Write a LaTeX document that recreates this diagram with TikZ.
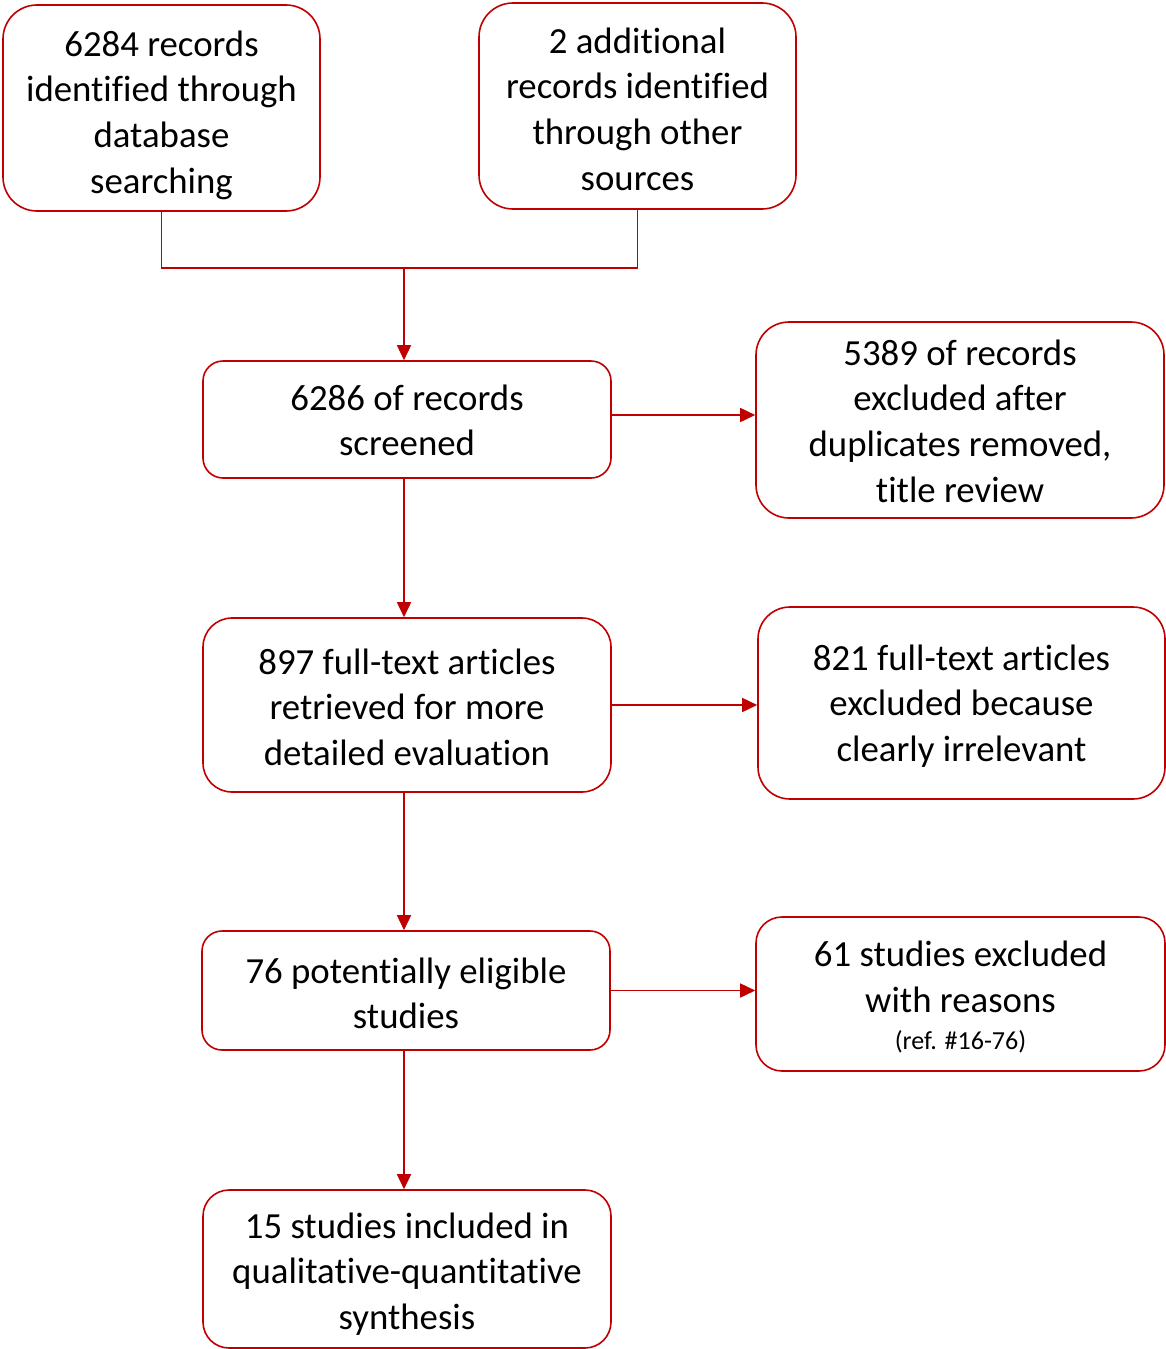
\documentclass[tikz,border=0pt]{standalone}
\usepackage{fontspec}
\setmainfont[Ligatures=NoCommon]{Carlito}
\usetikzlibrary{arrows.meta}
\definecolor{boxred}{HTML}{C00000}
\tikzset{
  flowbox/.style={draw=boxred, line width=1.6pt, fill=white, inner sep=0pt},
  boxtext/.style={inner sep=0pt, align=center, font=\fontsize{36.8}{45.6}\selectfont, text=black},
  link/.style={draw=boxred, line width=1.6pt},
  arrowlink/.style={link, -{Triangle[length=15pt,width=14pt]}}
}
\begin{document}
\begin{tikzpicture}[x=1pt,y=-1pt]
\useasboundingbox (0,0) rectangle (1166,1349);
% boxes
\node[flowbox, minimum width=317pt, minimum height=206pt, rounded corners=34pt] (A) at (161.5,108) {};
\node[flowbox, minimum width=317pt, minimum height=206pt, rounded corners=34pt] (B) at (637.5,106) {};
\node[flowbox, minimum width=408pt, minimum height=117pt, rounded corners=20pt] (C) at (407,419.5) {};
\node[flowbox, minimum width=408pt, minimum height=196pt, rounded corners=33pt] (D) at (960,420) {};
\node[flowbox, minimum width=408pt, minimum height=174pt, rounded corners=29pt] (E) at (407,705) {};
\node[flowbox, minimum width=407pt, minimum height=192pt, rounded corners=32pt] (F) at (961.5,703) {};
\node[flowbox, minimum width=408pt, minimum height=119pt, rounded corners=20pt] (G) at (406,990.5) {};
\node[flowbox, minimum width=409pt, minimum height=154pt, rounded corners=26pt] (H) at (960.5,994) {};
\node[flowbox, minimum width=408pt, minimum height=158pt, rounded corners=26pt] (I) at (407,1269) {};
% texts
\node[boxtext] (At) at (161.5,115) {6284 records\\identified through\\database\\searching};
\node[boxtext] (Bt) at (637.5,109) {2 additional\\records identified\\through other\\sources};
\node[boxtext] (Ct) at (407,420.5) {6286 of records\\screened};
\node[boxtext] (Dt) at (960,421) {5389 of records\\excluded after\\duplicates removed,\\title review};
\node[boxtext] (Et) at (407,707) {897 full-text articles\\retrieved for more\\detailed evaluation};
\node[boxtext] (Ft) at (961.5,706) {821 full-text articles\\excluded because\\clearly irrelevant};
\node[boxtext] (Gt) at (406,993.5) {76 potentially eligible\\studies};
\node[boxtext] (Ht) at (960.5,997) {61 studies excluded\\with reasons\\[-9pt]{\fontsize{26}{30}\selectfont (ref. \#16-76)}};
\node[boxtext] (It) at (407,1274) {15 studies included in\\qualitative-quantitative\\synthesis};
% connectors
\coordinate (j) at (404,268);
\draw[link] (A.south) -- (A.south |- j) -- (B.south |- j) -- (B.south);
\draw[arrowlink] (j) -- (j |- C.north);
\draw[arrowlink] ([yshift=4.5pt]C.east) -- ([yshift=4.5pt]D.west |- C.east);
\draw[arrowlink] (C.south -| j) -- (j |- E.north);
\draw[arrowlink] (E.east) -- (F.west |- E.east);
\draw[arrowlink] (E.south -| j) -- (j |- G.north);
\draw[arrowlink] (G.east) -- (H.west |- G.east);
\draw[arrowlink] (G.south -| j) -- (j |- I.north);
\end{tikzpicture}
\end{document}
